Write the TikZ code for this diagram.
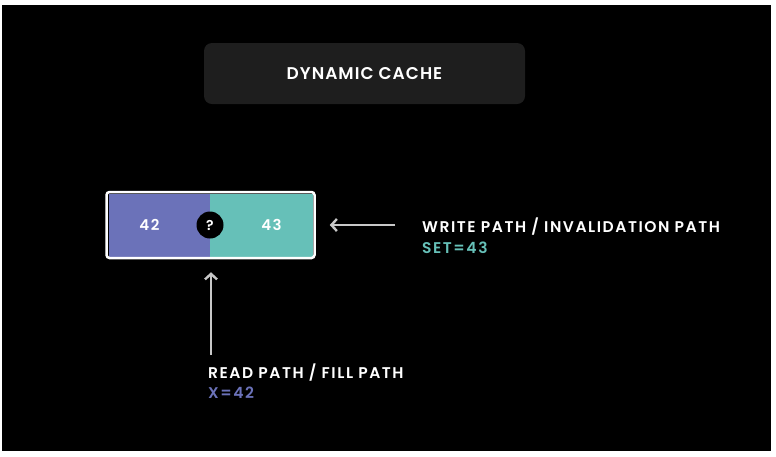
\documentclass[tikz,border=0pt]{standalone}
\usepackage{fontspec}
\setmainfont{Poppins}[UprightFont=* Medium,BoldFont=* SemiBold]
\newfontfamily\titlefont{Poppins}[UprightFont=* SemiBold,LetterSpace=6]
\newfontfamily\labelfont{Poppins}[UprightFont=* SemiBold,LetterSpace=10]
\usetikzlibrary{arrows.meta,positioning}
\definecolor{panel}{HTML}{1E1E1E}
\definecolor{readc}{HTML}{6B72B9}
\definecolor{writec}{HTML}{66C0B8}
\definecolor{arrowc}{HTML}{C8C8C8}
\begin{document}
\begin{tikzpicture}[x=1pt,y=-1pt,
  lbl/.style={text=white,font=\labelfont\fontsize{15.5}{18}\selectfont,inner sep=0pt,anchor=base west},
  val/.style={font=\labelfont\fontsize{15.5}{18}\selectfont,inner sep=0pt,anchor=base west},
  flow/.style={draw=arrowc,line width=2.4pt,-{Straight Barb[length=5.5pt,width=12pt]}},
  cell/.style={minimum height=63pt,inner sep=0pt,text=white,font=\labelfont\fontsize{15}{18}\selectfont}]
  % page and dark background
  \fill[white] (0,0) rectangle (776,456);
  \fill[black] (2,5) rectangle (771,451);
  \useasboundingbox (0,0) rectangle (776,456);

  % title panel
  \node[fill=panel,rounded corners=8pt,minimum width=321pt,minimum height=61pt,
        text=white,font=\titlefont\fontsize{17}{20}\selectfont] (title) at (364.5,73.5) {DYNAMIC CACHE};

  % the cache cell, split into two values
  \node[cell,fill=readc,minimum width=101pt] (left) at (159.5,225) {\hspace*{-20pt}42};
  \node[cell,fill=writec,minimum width=103pt] (right) at (261.5,225) {\hspace*{20pt}43};
  \node[draw=white,line width=2.5pt,rounded corners=3pt,minimum width=208pt,minimum height=66pt,inner sep=0pt]
        (cache) at (210.5,225) {};
  \node[circle,fill=black,minimum size=27pt,inner sep=0pt,text=white,
        font=\labelfont\fontsize{14}{16}\selectfont] (q) at (210,225) {?};

  % write path
  \node[lbl] (write) at (422,232) {WRITE PATH / INVALIDATION PATH};
  \node[val,text=writec] (setv) at (422,253) {SET=43};
  \coordinate (wstart) at (395,225);
  \draw[flow,shorten >=14pt] (wstart) -- (cache.east);

  % read path
  \node[lbl] (read) at (208,378) {READ PATH / FILL PATH};
  \node[val,text=readc] (xv) at (208,398) {X=42};
  \coordinate (rstart) at (211,355);
  \draw[flow,shorten >=13pt] (rstart) -- (rstart |- cache.south);
\end{tikzpicture}
\end{document}
